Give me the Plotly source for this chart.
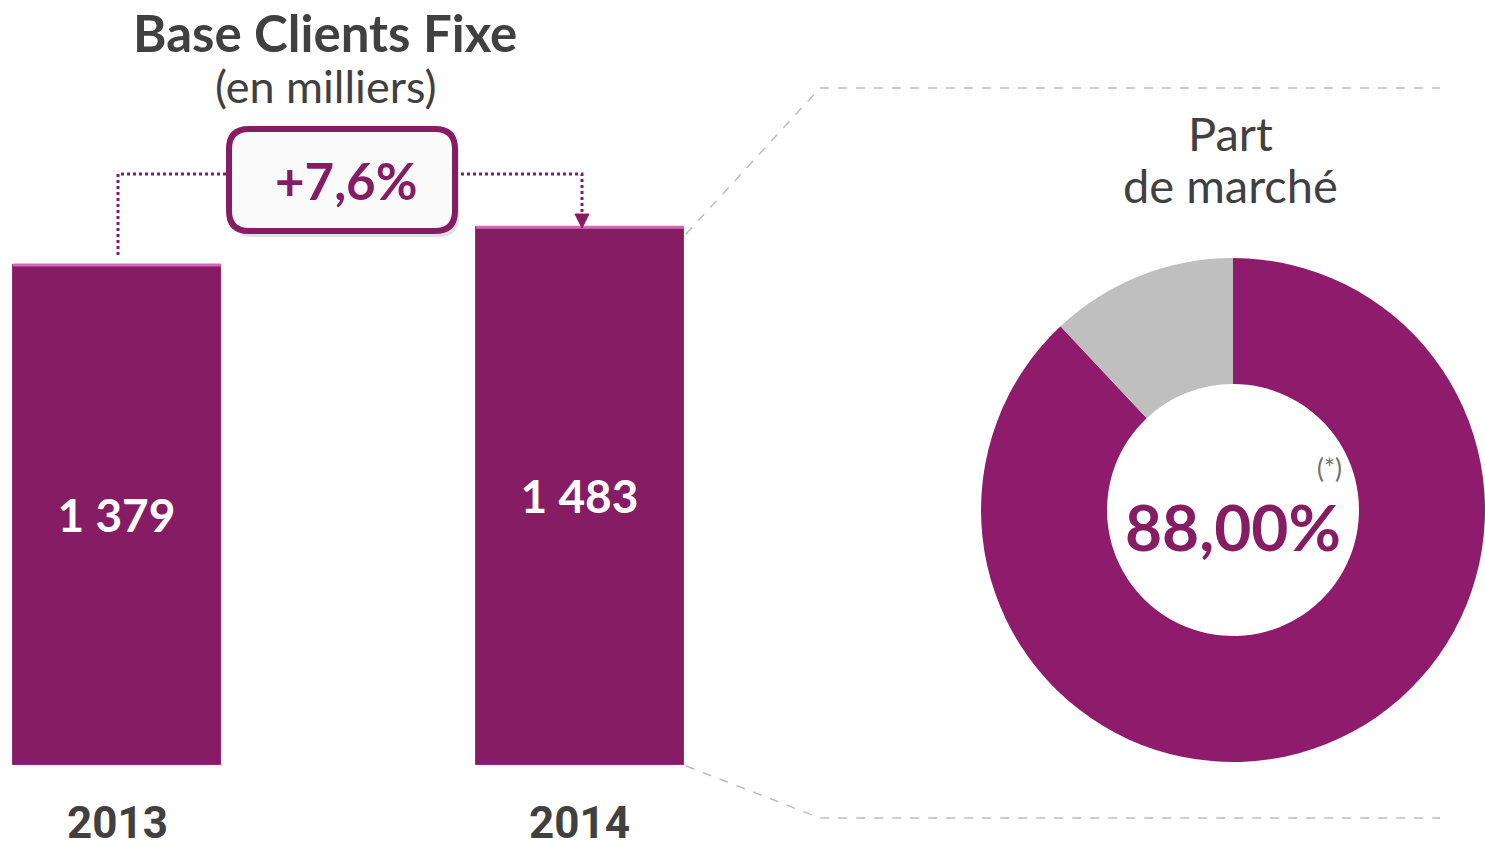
import plotly.graph_objects as go

W, H = 1485, 848

# ---- data ----
years = ["2013", "2014"]
clients = [1379, 1483]
value_labels = ["1 379", "1 483"]
growth_label = "+7,6%"
share_labels = ["Part de marché", "Autres"]
share_values = [88, 12]
share_text = "88,00%"

PURPLE = "#861C64"
PURPLE_PIE = "#8E1B6C"
GRAY = "#BFBFBF"
DARK = "#404040"


def px(x):
    return x / W


def py(y):
    return 1 - y / H


fig = go.Figure()

xpos = [0, 1]
fig.add_trace(go.Bar(
    x=xpos, y=clients, width=0.449,
    marker=dict(color=PURPLE, line=dict(color="#9A2A7A", width=1)),
    text=value_labels, textposition="inside", insidetextanchor="middle",
    textfont=dict(family="Lato", size=46, color="white", weight="bold"),
    hoverinfo="skip", showlegend=False,
))

fig.add_trace(go.Pie(
    labels=share_labels, values=share_values, hole=0.5, sort=False,
    direction="clockwise", rotation=0,
    marker=dict(colors=[PURPLE_PIE, GRAY], line=dict(color="white", width=0)),
    textinfo="none", hoverinfo="skip", showlegend=False,
    domain=dict(x=[px(981), px(1485)], y=[py(762), py(258)]),
))

fig.update_layout(
    width=W, height=H,
    margin=dict(l=0, r=0, t=0, b=0),
    paper_bgcolor="white", plot_bgcolor="rgba(0,0,0,0)",
    xaxis=dict(domain=[0, 0.5], range=[-0.2527, 1.351], visible=False, fixedrange=True),
    yaxis=dict(domain=[py(765), 1], range=[0, 2110], visible=False, fixedrange=True),
    bargap=0,
)

shapes = []
for xv, v in zip(xpos, clients):
    shapes.append(dict(type="line", xref="x", yref="y", x0=xv - 0.2245, x1=xv + 0.2245, y0=v, y1=v,
                       line=dict(color="#D468B4", width=3)))


def P(x, y):
    return f"{px(x)},{py(y)}"


dot = dict(color=PURPLE, width=3, dash="dot")
shapes.append(dict(type="path", xref="paper", yref="paper",
                   path=f"M {P(118, 255)} L {P(118, 174)} L {P(228, 174)}", line=dot))
shapes.append(dict(type="path", xref="paper", yref="paper",
                   path=f"M {P(455, 174)} L {P(582, 174)} L {P(582, 216)}", line=dot))
shapes.append(dict(type="path", xref="paper", yref="paper",
                   path=f"M {P(575, 214)} L {P(589, 214)} L {P(582, 228)} Z",
                   fillcolor=PURPLE, line=dict(color=PURPLE, width=1)))


def rbox(x0, y0, x1, y1, r):
    return (f"M {P(x0 + r, y0)} L {P(x1 - r, y0)} Q {P(x1, y0)} {P(x1, y0 + r)} "
            f"L {P(x1, y1 - r)} Q {P(x1, y1)} {P(x1 - r, y1)} L {P(x0 + r, y1)} "
            f"Q {P(x0, y1)} {P(x0, y1 - r)} L {P(x0, y0 + r)} Q {P(x0, y0)} {P(x0 + r, y0)} Z")


shapes.append(dict(type="path", xref="paper", yref="paper", path=rbox(232, 134, 459, 237, 20),
                   fillcolor="rgba(0,0,0,0.12)", line=dict(width=0)))
shapes.append(dict(type="path", xref="paper", yref="paper", path=rbox(229, 129, 455, 231, 20),
                   fillcolor="#FAFAFA", line=dict(color=PURPLE, width=6)))

dash = dict(color="#BDBDBD", width=1.5, dash="dash")
shapes.append(dict(type="path", xref="paper", yref="paper",
                   path=f"M {P(686, 234)} L {P(820, 88)} L {P(1440, 88)}", line=dash))
shapes.append(dict(type="path", xref="paper", yref="paper",
                   path=f"M {P(686, 766)} L {P(820, 818)} L {P(1440, 818)}", line=dash))

fig.update_layout(shapes=shapes)

ann = []


def text(x, y, s, size, color, bold=False, family="Lato"):
    ann.append(dict(x=px(x), y=py(y), xref="paper", yref="paper", text=s, showarrow=False,
                    xanchor="center", yanchor="middle",
                    font=dict(family=family, size=size, color=color, weight="bold" if bold else "normal")))


text(325, 33, "Base Clients Fixe", 51, DARK, True)
text(325, 86, "(en milliers)", 45, DARK)
text(346, 180, growth_label, 51, PURPLE, True)
for i, y in enumerate(years):
    ann.append(dict(x=xpos[i], y=0, xref="x", yref="y", text=y, showarrow=False,
                    yshift=-58, yanchor="middle",
                    font=dict(family="Roboto", size=44, color=DARK, weight="bold")))
text(1230, 133, "Part", 47, DARK)
text(1230, 185, "de marché", 47, DARK)
text(1233, 526, share_text, 64, PURPLE, True)
text(1329, 468, "(*)", 26, "#707070")

fig.update_layout(annotations=ann)

fig.write_html("out.html", config={"displayModeBar": False},
               post_script="document.body.style.margin='0';document.body.style.overflow='hidden';")
